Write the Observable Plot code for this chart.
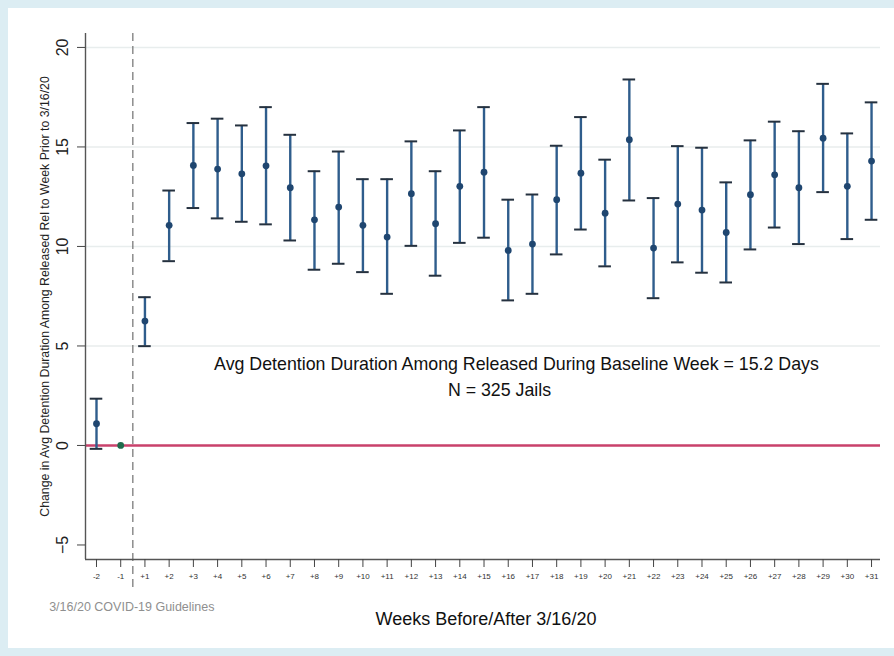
<!DOCTYPE html>
<html>
<head>
<meta charset="utf-8">
<script src="https://cdn.jsdelivr.net/npm/d3@7"></script>
<script src="https://cdn.jsdelivr.net/npm/@observablehq/plot@0.6"></script>
<style>
  html, body { margin: 0; padding: 0; background: #dcedf3; width: 894px; height: 656px; overflow: hidden; }
  #panel { position: absolute; left: 8px; top: 8px; width: 886px; height: 640px; background: #ffffff; }
</style>
</head>
<body>
<div id="panel"></div>
<script>
// ---- data ----
const weeks = ["-2","-1","+1","+2","+3","+4","+5","+6","+7","+8","+9","+10","+11","+12","+13","+14","+15","+16","+17","+18","+19","+20","+21","+22","+23","+24","+25","+26","+27","+28","+29","+30","+31"];
const estimates = [1.09, 0, 6.25, 11.06, 14.07, 13.89, 13.65, 14.05, 12.95, 11.34, 11.98, 11.06, 10.47, 12.65, 11.14, 13.02, 13.73, 9.80, 10.12, 12.35, 13.68, 11.67, 15.36, 9.92, 12.13, 11.83, 10.70, 12.60, 13.60, 12.95, 15.44, 13.02, 14.29];
const ciLow  = [-0.17, null, 4.99, 9.26, 11.93, 11.41, 11.24, 11.11, 10.30, 8.83, 9.13, 8.71, 7.62, 10.03, 8.53, 10.18, 10.44, 7.29, 7.62, 9.60, 10.85, 9.00, 12.31, 7.40, 9.20, 8.68, 8.19, 9.85, 10.95, 10.12, 12.73, 10.37, 11.34];
const ciHigh = [2.35, null, 7.45, 12.81, 16.20, 16.42, 16.08, 17.00, 15.61, 13.78, 14.77, 13.38, 13.38, 15.28, 13.78, 15.83, 17.00, 12.35, 12.61, 15.06, 16.50, 14.36, 18.39, 12.43, 15.04, 14.96, 13.22, 15.33, 16.27, 15.79, 18.17, 15.68, 17.24];
const yTicks = [-5, 0, 5, 10, 15, 20];
const gridTicks = [5, 10, 15, 20];
const baselineWeekIndex = 1.5; // between -1 and +1
const yTitle = "Change in Avg Detention Duration Among Released Rel to Week Prior to 3/16/20";
const xTitle = "Weeks Before/After 3/16/20";
const policyLabel = "3/16/20 COVID-19 Guidelines";
const note1 = "Avg Detention Duration Among Released During Baseline Week = 15.2 Days";
const note2 = "N = 325 Jails";

// ---- table ----
const data = weeks.map((w, i) => ({i, week: w, est: estimates[i], lo: ciLow[i], hi: ciHigh[i]}));
const withCI = data.filter(d => d.lo != null);

const xDomain = [-0.454, 32.37];
const yDomain = [-5.73, 20.7];
const font = "'Liberation Sans', Arial, Helvetica, sans-serif";

const chart = Plot.plot({
  width: 886,
  height: 640,
  marginLeft: 77,
  marginRight: 14,
  marginTop: 25,
  marginBottom: 89,
  style: {fontFamily: font, background: "transparent", color: "#222"},
  x: {domain: xDomain},
  y: {domain: yDomain},
  marks: [
    Plot.gridY(gridTicks, {stroke: "#e8eded", strokeOpacity: 1, strokeWidth: 1.5}),
    Plot.ruleY([0], {stroke: "#c9416b", strokeWidth: 2.6}),
    Plot.ruleX([baselineWeekIndex], {stroke: "#7a7a7a", strokeWidth: 1.3, strokeDasharray: "8,5", insetBottom: -33}),
    Plot.ruleX(withCI, {x: "i", y1: "lo", y2: "hi", stroke: "#2f5d8c", strokeWidth: 2.4}),
    Plot.ruleY(withCI, {y: "hi", x1: d => d.i - 0.26, x2: d => d.i + 0.26, stroke: "#25313f", strokeWidth: 2}),
    Plot.ruleY(withCI, {y: "lo", x1: d => d.i - 0.26, x2: d => d.i + 0.26, stroke: "#25313f", strokeWidth: 2}),
    Plot.dot(data, {x: "i", y: "est", r: 3.4, fill: d => d.week === "-1" ? "#1f6b4c" : "#1f4670", stroke: "none"}),
    Plot.ruleX([xDomain[0]], {stroke: "#555", strokeWidth: 1.4}),
    Plot.ruleY([yDomain[0]], {stroke: "#555", strokeWidth: 1.4}),
    Plot.axisX({ticks: data.map(d => d.i), tickFormat: i => weeks[i], tickSize: 8, tickPadding: 6, fontSize: 8, label: null, stroke: "#444", color: "#333"}),
    Plot.axisY({ticks: yTicks, tickSize: 8, tickRotate: -90, tickPadding: 10, fontSize: 16, label: null, stroke: "#444", color: "#222"}),
    Plot.text([yTitle], {frameAnchor: "left", textAnchor: "middle", rotate: -90, dx: -40, fontSize: 12.3, fill: "#222"}),
    Plot.text([note1], {x: 17.34, y: 4.1, fontSize: 17.8, fill: "#111"}),
    Plot.text([note2], {x: 16.64, y: 2.76, fontSize: 17.8, fill: "#111"}),
    Plot.text([xTitle], {frameAnchor: "bottom", textAnchor: "middle", dy: 65, dx: 3, fontSize: 18, fill: "#111"}),
    Plot.text([policyLabel], {x: baselineWeekIndex, frameAnchor: "bottom", dy: 51, dx: -1, fontSize: 12.5, fill: "#8f8f8f"})
  ]
});
document.getElementById("panel").appendChild(chart);
</script>
</body>
</html>
